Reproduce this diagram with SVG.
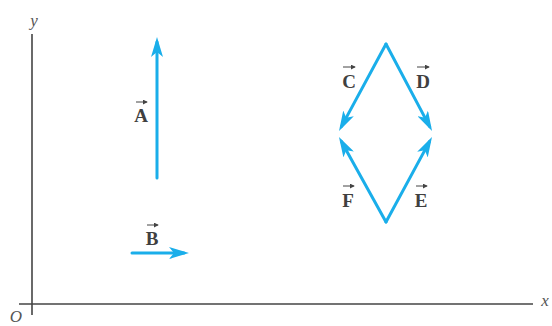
<svg xmlns="http://www.w3.org/2000/svg" width="552" height="326" viewBox="0 0 552 326">
<style>
.axis{stroke:#444;stroke-width:1.6;fill:none}
.vec{stroke:#1aaeea;stroke-width:3;fill:none;stroke-linecap:round}
.ov{stroke:#444;stroke-width:1;fill:none}
.lbl{font-family:"Liberation Serif",serif;font-weight:bold;font-size:19px;fill:#404040;text-anchor:middle}
.ax{font-family:"Liberation Serif",serif;font-style:italic;font-size:17px;fill:#555;text-anchor:middle}
</style>
<defs>
<marker id="head" viewBox="0 0 20 12" refX="15" refY="6" markerWidth="20" markerHeight="12" markerUnits="userSpaceOnUse" orient="auto">
<path d="M0,0 L20,6 L0,12 L5,6 z" fill="#1aaeea"/>
</marker>
<marker id="small" viewBox="0 0 6 6" refX="5" refY="3" markerWidth="5" markerHeight="5" markerUnits="userSpaceOnUse" orient="auto">
<path d="M0,0 L6,3 L0,6 z" fill="#444"/>
</marker>
</defs>
<g id="axes">
<line class="axis" x1="32" y1="34" x2="32" y2="315"/>
<line class="axis" x1="19" y1="304" x2="533" y2="304"/>
<text class="ax" x="34" y="26">y</text>
<text class="ax" x="16" y="322">O</text>
<text class="ax" x="545" y="306">x</text>
</g>
<g id="connectors">
<line id="vA" class="vec" x1="157" y1="178" x2="157" y2="42" marker-end="url(#head)"/>
<line id="vB" class="vec" x1="132" y1="253" x2="184" y2="253" marker-end="url(#head)"/>
<line id="vC" class="vec" x1="386" y1="44" x2="341.4" y2="126.6" marker-end="url(#head)"/>
<line id="vD" class="vec" x1="386" y1="44" x2="429.7" y2="126.6" marker-end="url(#head)"/>
<line id="vF" class="vec" x1="386" y1="222" x2="341.4" y2="141.4" marker-end="url(#head)"/>
<line id="vE" class="vec" x1="386" y1="222" x2="429.6" y2="141.4" marker-end="url(#head)"/>
</g>
<g id="labelA"><text class="lbl" x="141" y="122">A</text><line class="ov" x1="136" y1="102" x2="147" y2="102" marker-end="url(#small)"/></g>
<g id="labelB"><text class="lbl" x="152" y="245">B</text><line class="ov" x1="147" y1="225" x2="158" y2="225" marker-end="url(#small)"/></g>
<g id="labelC"><text class="lbl" x="349" y="88">C</text><line class="ov" x1="343" y1="67" x2="355" y2="67" marker-end="url(#small)"/></g>
<g id="labelD"><text class="lbl" x="423" y="88">D</text><line class="ov" x1="417" y1="67" x2="429" y2="67" marker-end="url(#small)"/></g>
<g id="labelF"><text class="lbl" x="348" y="207">F</text><line class="ov" x1="343" y1="186" x2="354" y2="186" marker-end="url(#small)"/></g>
<g id="labelE"><text class="lbl" x="421" y="207">E</text><line class="ov" x1="416" y1="186" x2="427" y2="186" marker-end="url(#small)"/></g>
</svg>
